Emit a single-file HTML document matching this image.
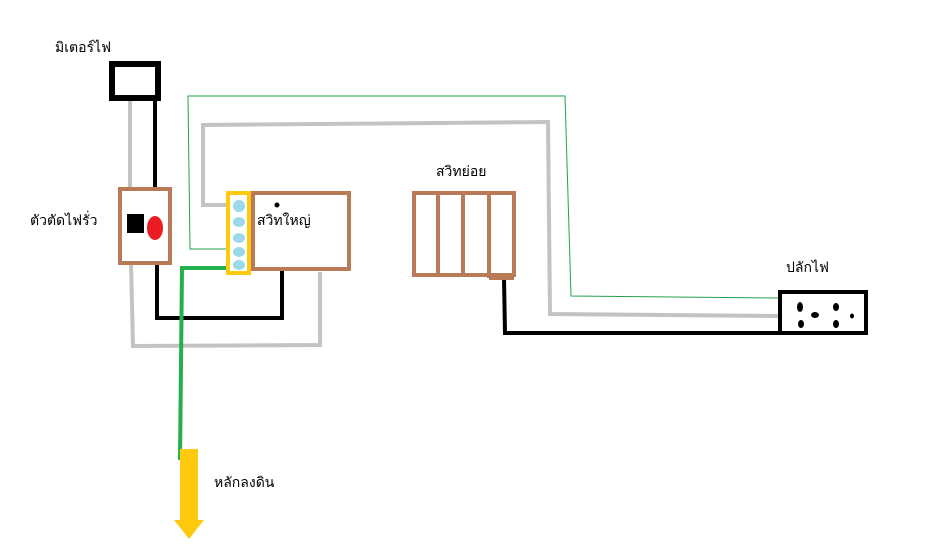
<!DOCTYPE html>
<html><head><meta charset="utf-8"><style>
html,body{margin:0;padding:0;background:#fff;}
svg{display:block;}
text{font-family:"Liberation Sans","DejaVu Sans",sans-serif;font-size:14px;fill:#000;}
</style></head><body>
<svg width="926" height="560" viewBox="0 0 926 560" xmlns="http://www.w3.org/2000/svg">
<rect width="926" height="560" fill="#fff"/>
<polyline points="228,249 190,249 188,96 565,96 571,296 780,298" fill="none" stroke="#22a04a" stroke-width="1"/>
<polyline points="130,98 130,188" fill="none" stroke="#c3c3c3" stroke-width="4"/>
<polyline points="232,205 203,205 203,125 548,122 550,314 780,316" fill="none" stroke="#c3c3c3" stroke-width="4"/>
<polyline points="131,263 133,346 320,345 320,272" fill="none" stroke="#c3c3c3" stroke-width="4"/>
<line x1="155" y1="98" x2="155" y2="188" stroke="#000" stroke-width="4"/>
<polyline points="157,263 157,318 282,318 282,270" fill="none" stroke="#000" stroke-width="4"/>
<polyline points="504,279 505,333 780,333" fill="none" stroke="#000" stroke-width="4"/>
<rect x="112" y="64" width="46" height="34" fill="#fff" stroke="#000" stroke-width="6"/>
<rect x="120" y="189" width="50" height="74" fill="#fff" stroke="#b97a57" stroke-width="4"/>
<rect x="127" y="214" width="17" height="19" fill="#000"/>
<ellipse cx="155" cy="228" rx="8" ry="12" fill="#ed1c24"/>
<polyline points="228,268 182,268 180,460" fill="none" stroke="#22b14c" stroke-width="4"/>
<rect x="228" y="193" width="21" height="80" fill="#fff" stroke="#ffc90e" stroke-width="4"/>
<g fill="#99d9ea">
<ellipse cx="239" cy="206" rx="6" ry="6"/>
<ellipse cx="239" cy="222" rx="6" ry="5"/>
<ellipse cx="239" cy="238" rx="6" ry="5"/>
<ellipse cx="239" cy="252" rx="6" ry="5"/>
<ellipse cx="239" cy="265" rx="6" ry="5"/>
</g>
<rect x="253" y="193" width="96" height="76" fill="#fff" stroke="#b97a57" stroke-width="4"/>
<circle cx="277" cy="205" r="2.5" fill="#000"/>
<text x="257" y="225">สวิทใหญ่</text>
<g fill="none" stroke="#b97a57" stroke-width="4">
<rect x="414" y="193" width="100" height="82"/>
<line x1="438" y1="193" x2="438" y2="275"/>
<line x1="463" y1="193" x2="463" y2="275"/>
<line x1="489" y1="193" x2="489" y2="278"/>
<line x1="489" y1="278" x2="514" y2="278"/>
</g>
<text x="436" y="176">สวิทย่อย</text>
<rect x="780" y="292" width="86" height="41" fill="#fff" stroke="#000" stroke-width="4"/>
<g fill="#000">
<ellipse cx="800" cy="307" rx="3" ry="5"/>
<ellipse cx="815" cy="315" rx="4" ry="3"/>
<ellipse cx="801" cy="324" rx="3" ry="4"/>
<ellipse cx="836" cy="307" rx="3" ry="4"/>
<ellipse cx="836" cy="324" rx="3" ry="4"/>
<ellipse cx="852" cy="316" rx="2" ry="2.5"/>
</g>
<text x="786" y="272">ปลักไฟ</text>
<rect x="180" y="449" width="18" height="72" fill="#ffc90e"/>
<polygon points="174,520 204,520 189,539" fill="#ffc90e"/>
<text x="214" y="487">หลักลงดิน</text>
<text x="55" y="52">มิเตอร์ไฟ</text>
<text x="30" y="225">ตัวตัดไฟรั่ว</text>
</svg>
</body></html>
